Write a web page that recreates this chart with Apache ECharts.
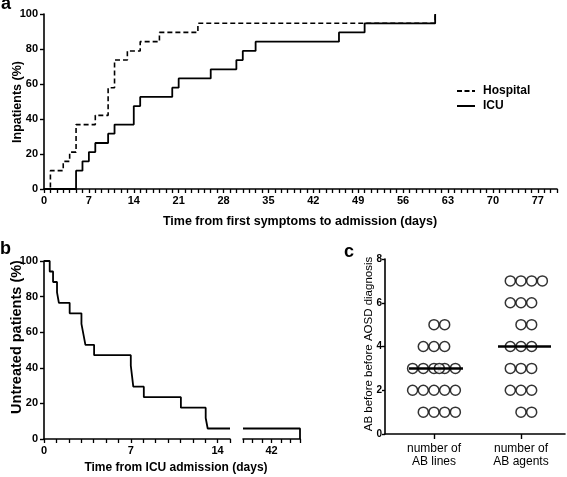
<!DOCTYPE html>
<html><head><meta charset="utf-8">
<script src="https://cdn.jsdelivr.net/npm/echarts@6/dist/echarts.min.js"></script>
<style>html,body{margin:0;padding:0;background:#fff}#c{width:567px;height:477px}</style>
</head><body><div id="c"></div>
<script>
// ---- Panel a: cumulative % of inpatients vs days from first symptoms
const hospitalDays = [0, 1, 3, 4, 5, 8, 10, 11, 13, 15, 18, 24, 61];
const hospitalPct  = [0, 10.5, 15.8, 21.1, 36.8, 42.1, 57.9, 73.7, 78.9, 84.2, 89.5, 94.7, 100];
const icuDays = [0, 5, 6, 7, 8, 10, 11, 14, 15, 20, 21, 26, 30, 31, 33, 46, 50, 61];
const icuPct  = [0, 10.5, 15.8, 21.1, 26.3, 31.6, 36.8, 47.4, 52.6, 57.9, 63.2, 68.4, 73.7, 78.9, 84.2, 89.5, 94.7, 100];
const aXTicks = [0, 7, 14, 21, 28, 35, 42, 49, 56, 63, 70, 77];
const aYTicks = [0, 20, 40, 60, 80, 100];

// ---- Panel b: untreated patients vs days from ICU admission
const untreatedDays = [0, 0.46, 0.73, 1.05, 1.2, 2.07, 3.02, 3.18, 3.34, 4.04, 7.0, 7.1, 7.2, 8.05, 11.04, 13.04, 13.2, 45];
const untreatedPct  = [100, 94.1, 88.2, 82.4, 76.5, 70.6, 64.7, 58.8, 52.9, 47.1, 41.2, 35.3, 29.4, 23.5, 17.6, 11.8, 5.9, 0];
const bXTicks1 = [0, 7, 14];
const bXTicks2 = [42];
const bBreak = [15, 39];   // axis break: first segment ends, second segment starts

// ---- Panel c: antibiotics before AOSD diagnosis
const cCategories = ['number of\nAB lines', 'number of\nAB agents'];
const abLines  = [1, 1, 1, 1, 2, 2, 2, 2, 2, 3, 3, 3, 3, 3, 3, 4, 4, 4, 5, 5];
const abAgents = [1, 1, 2, 2, 2, 3, 3, 3, 4, 4, 4, 5, 5, 6, 6, 6, 7, 7, 7, 7];
const cYTicks = [0, 2, 4, 6, 8];

const FONT = '"Liberation Sans", Arial, sans-serif';
const BLACK = '#000';

function pairs(xs, ys) { return xs.map((x, i) => [x, ys[i]]); }

function median(arr) {
  const s = arr.slice().sort((a, b) => a - b);
  const n = s.length;
  return n % 2 ? s[(n - 1) / 2] : (s[n / 2 - 1] + s[n / 2]) / 2;
}

const DOT_STEP = 0.123;
function swarm(values, center) {
  const counts = {};
  values.forEach(v => counts[v] = (counts[v] || 0) + 1);
  const pts = [];
  Object.keys(counts).forEach(k => {
    const n = counts[k];
    const base = Math.min(n, 5);
    const start = -Math.floor((base - 1) / 2);
    const offs = [];
    for (let i = 0; i < base; i++) offs.push(start + i);
    for (let j = 0; j < n - base; j++) offs.push(0.5 + j);
    offs.forEach(o => pts.push([center + o * DOT_STEP, +k]));
  });
  return pts;
}

// panel b segments
const seg1 = [];
const seg2 = [];
untreatedDays.forEach((d, i) => {
  if (d <= bBreak[0]) seg1.push([d, untreatedPct[i]]);
  else seg2.push([d, untreatedPct[i]]);
});
seg1.push([bBreak[0], seg1[seg1.length - 1][1]]);
seg2.unshift([bBreak[1], seg1[seg1.length - 1][1]]);

const axisLine = { show: true, lineStyle: { color: BLACK, width: 1.6 } };

function dayAxis(grid, min, max, labels) {
  return {
    type: 'value', gridIndex: grid, min: min, max: max, interval: 1,
    axisLine: axisLine,
    axisTick: { show: true, length: 4, lineStyle: { color: BLACK, width: 1.3 } },
    axisLabel: { margin: 6, fontFamily: FONT, fontSize: 11, fontWeight: 'bold', color: BLACK,
      showMinLabel: true, showMaxLabel: true,
      formatter: v => labels.indexOf(v) >= 0 ? String(v) : '' },
    splitLine: { show: false }
  };
}

const xAxes = [
  dayAxis(0, 0, 80, aXTicks),
  dayAxis(1, 0, bBreak[0], bXTicks1),
  dayAxis(2, bBreak[1], 45, bXTicks2),
  {
    type: 'value', gridIndex: 3, min: 0.437, max: 2.506,
    axisLine: axisLine,
    axisTick: { show: true, length: 5, lineStyle: { color: BLACK, width: 1.4 }, customValues: [1, 2] },
    axisLabel: { customValues: [1, 2], formatter: v => cCategories[Math.round(v) - 1] || '',
      fontFamily: FONT, fontSize: 12, color: BLACK, lineHeight: 13, margin: 8 },
    splitLine: { show: false }
  }
];

function yAxis(grid, max, ticks, labelSize, tickLen, margin) {
  return {
    type: 'value', gridIndex: grid, min: 0, max: max, interval: ticks[1] - ticks[0],
    axisLine: axisLine,
    axisTick: { show: true, length: tickLen, lineStyle: { color: BLACK, width: 1.4 } },
    axisLabel: { fontFamily: FONT, fontSize: labelSize, fontWeight: 'bold', color: BLACK, margin: margin },
    splitLine: { show: false }
  };
}

const yAxes = [
  yAxis(0, 100, aYTicks, 11, 4, 6),
  yAxis(1, 100, aYTicks, 11, 4, 6),
  { type: 'value', gridIndex: 2, min: 0, max: 100, show: false },
  yAxis(3, 8, cYTicks, 10, 3, 3)
];

const medLines = median(abLines);
const medAgents = median(abAgents);

const DASH_ICON = 'path://M0,0h5v2h-5z M7.5,0h5v2h-5z M15,0h3v2h-3z';
const SOLID_ICON = 'path://M0,0h18v2h-18z';

function vtext(text, x, y, font) {
  return { type: 'text', x: x, y: y, rotation: Math.PI / 2,
    style: { text: text, font: font, fill: BLACK, align: 'center', verticalAlign: 'middle' } };
}
function htext(text, x, y, font, align, valign) {
  return { type: 'text', x: x, y: y,
    style: { text: text, font: font, fill: BLACK, align: align || 'center', verticalAlign: valign || 'middle' } };
}

const option = {
  animation: false,
  backgroundColor: '#fff',
  textStyle: { fontFamily: FONT },
  grid: [
    { left: 44, top: 14, width: 513, height: 175 },
    { left: 44, top: 261, width: 186, height: 178 },
    { left: 243, top: 261, width: 57, height: 178 },
    { left: 385, top: 259, width: 180, height: 175 }
  ],
  xAxis: xAxes,
  yAxis: yAxes,
  legend: {
    data: [
      { name: 'Hospital', icon: DASH_ICON },
      { name: 'ICU', icon: SOLID_ICON }
    ],
    orient: 'vertical', left: 452, top: 80,
    itemWidth: 18, itemHeight: 2, itemGap: 3, symbolKeepAspect: false,
    itemStyle: { color: BLACK, borderWidth: 0 },
    textStyle: { fontFamily: FONT, fontSize: 12, fontWeight: 'bold', color: BLACK, padding: [0, 0, 0, 3] }
  },
  series: [
    { name: 'Hospital', type: 'line', xAxisIndex: 0, yAxisIndex: 0, step: 'end', symbol: 'none',
      lineStyle: { color: BLACK, width: 1.6, type: [5, 3] }, itemStyle: { color: BLACK },
      data: pairs(hospitalDays, hospitalPct) },
    { name: 'ICU', type: 'line', xAxisIndex: 0, yAxisIndex: 0, step: 'end', symbol: 'none',
      lineStyle: { color: BLACK, width: 1.8 }, itemStyle: { color: BLACK },
      data: pairs(icuDays, icuPct) },
    { type: 'line', xAxisIndex: 1, yAxisIndex: 1, step: 'end', symbol: 'none', clip: false,
      lineStyle: { color: BLACK, width: 1.8 }, data: seg1 },
    { type: 'line', xAxisIndex: 2, yAxisIndex: 2, step: 'end', symbol: 'none', clip: false,
      lineStyle: { color: BLACK, width: 1.8 }, data: seg2 },
    { type: 'scatter', xAxisIndex: 3, yAxisIndex: 3, symbol: 'circle', symbolSize: 10,
      itemStyle: { color: '#fff', borderColor: BLACK, borderWidth: 1.5 },
      data: swarm(abLines, 1) },
    { type: 'scatter', xAxisIndex: 3, yAxisIndex: 3, symbol: 'circle', symbolSize: 10,
      itemStyle: { color: '#fff', borderColor: BLACK, borderWidth: 1.5 },
      data: swarm(abAgents, 2) },
    { type: 'line', xAxisIndex: 3, yAxisIndex: 3, symbol: 'none', z: 5,
      lineStyle: { color: BLACK, width: 2.5 }, data: [[1 - 0.287, medLines], [1 + 0.333, medLines]] },
    { type: 'line', xAxisIndex: 3, yAxisIndex: 3, symbol: 'none', z: 5,
      lineStyle: { color: BLACK, width: 2.5 }, data: [[2 - 0.264, medAgents], [2 + 0.345, medAgents]] }
  ],
  graphic: [
    htext('a', 1, 13.5, 'bold 18px ' + FONT, 'left', 'bottom'),
    htext('b', 0, 258.5, 'bold 18px ' + FONT, 'left', 'bottom'),
    htext('c', 344, 261, 'bold 18px ' + FONT, 'left', 'bottom'),
    htext('Time from first symptoms to admission (days)', 300, 222, 'bold 12.5px ' + FONT),
    htext('Time from ICU admission (days)', 176, 468, 'bold 12px ' + FONT),
    vtext('Inpatients (%)', 18, 102, 'bold 12.5px ' + FONT),
    vtext('Untreated patients (%)', 17, 337, 'bold 14.5px ' + FONT),
    vtext('AB before before AOSD diagnosis', 369, 344, '11.5px ' + FONT)
  ]
};

const chart = echarts.init(document.getElementById('c'), null, { renderer: 'canvas' });
chart.setOption(option);
</script>
</body></html>
